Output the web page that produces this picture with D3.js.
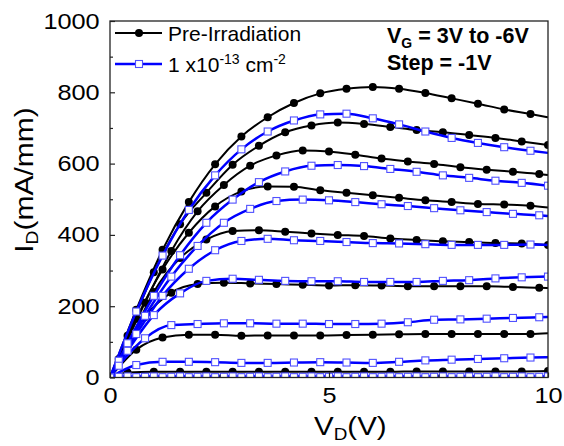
<!DOCTYPE html>
<html><head><meta charset="utf-8">
<script src="https://cdn.jsdelivr.net/npm/d3@7"></script>
<style>body{margin:0;background:#fff}svg{display:block}</style>
</head><body><svg id="c" width="564" height="446"></svg>
<script>
// ---- data ----
const gateVoltages = [3, 2, 1, 0, -1, -2, -3, -4, -5, -6];
// drain-voltage sample positions carrying markers (three interleaved grids)
const vdGridA = [0, 0.6, 1.2, 1.8, 2.4, 3.0, 3.6, 4.2, 4.8, 5.4, 6.0, 6.6, 7.2, 7.8, 8.4, 9.0, 9.6];
const vdGridB = [0.2, 0.8, 1.4, 2.0, 2.6, 3.2, 3.8, 4.4, 5.0, 5.6, 6.2, 6.8, 7.4, 8.0, 8.6, 9.2, 9.8];
const vdGridC = [0.4, 1.0, 1.6, 2.2, 2.8, 3.4, 4.0, 4.6, 5.2, 5.8, 6.4, 7.0, 7.6, 8.2, 8.8, 9.4, 10.0];
const gridOfCurve = [vdGridA, vdGridC, vdGridB, vdGridA, vdGridC, vdGridB, vdGridA, vdGridC, vdGridB, vdGridA];

// Pre-Irradiation I_D (mA/mm)
const preVG3  = [0, 190, 358, 492, 598, 676, 730, 770, 797, 810, 815, 810, 798, 783, 768, 752, 739];
const preVG2  = [117, 295, 430, 518, 597, 650, 688, 707, 715, 711, 703, 694, 688, 680, 672, 662, 652];
const preVG1  = [52, 210, 355, 466, 540, 594, 623, 637, 634, 625, 614, 606, 599, 590, 583, 577, 571];
const preVG0  = [0, 165, 303, 406, 480, 522, 536, 535, 525, 518, 511, 504, 497, 492, 487, 485, 482];
const preVGm1 = [88, 240, 335, 387, 411, 413, 409, 404, 400, 397, 390, 386, 382, 380, 377, 376, 372];
const preVGm2 = [45, 170, 238, 262, 266, 264, 262, 260, 258, 259, 258, 256, 256, 256, 256, 254, 252];
const preVGm3 = [0, 78, 112, 120, 120, 117, 118, 118, 118, 119, 120, 121, 122, 122, 122, 122, 122];
const preVGm4 = [14, 16, 16, 16, 16, 16, 16, 16, 16, 16, 16, 17, 17, 17, 17, 17, 18];
const preVGm5 = [0, 0, 0, 0, 0, 0, 0, 0, 0, 0, 0, 0, 0, 0, 0, 0, 0];
const preVGm6 = [0, 0, 0, 0, 0, 0, 0, 0, 0, 0, 0, 0, 0, 0, 0, 0, 0];
const preAt10V = [730, 652, 568, 477, 372, 251, 124, 18, 0, 0];

// 1x10^-13 cm^-2 I_D (mA/mm)
const postVG3  = [0, 185, 342, 470, 567, 640, 690, 721, 738, 740, 727, 710, 690, 672, 658, 646, 636];
const postVG2  = [96, 229, 343, 434, 499, 548, 578, 594, 596, 593, 585, 577, 567, 560, 552, 546, 538];
const postVG1  = [47, 173, 283, 369, 434, 473, 495, 499, 497, 492, 486, 481, 475, 469, 464, 459, 455];
const postVG0  = [0, 122, 229, 305, 357, 383, 389, 385, 383, 380, 377, 376, 374, 372, 372, 372, 373];
const postVGm1 = [75, 175, 236, 271, 277, 274, 271, 270, 270, 268, 268, 268, 271, 273, 278, 281, 283];
const postVGm2 = [33, 110, 147, 150, 152, 152, 151, 151, 150, 150, 151, 155, 162, 163, 165, 167, 169];
const postVGm3 = [0, 35, 44, 44, 43, 41, 41, 42, 43, 42, 41, 44, 48, 50, 52, 54, 56];
const postVGm4 = [3, 3, 3, 3, 3, 3, 3, 3, 3, 3, 3, 3, 3, 3, 3, 3, 3];
const postVGm5 = [2, 2, 2, 2, 2, 2, 2, 2, 2, 2, 2, 2, 2, 2, 2, 2, 2];
const postVGm6 = [0, 1, 1, 1, 1, 1, 1, 1, 1, 1, 1, 1, 1, 1, 1, 1, 1];
const postAt10V = [630, 538, 453, 372, 283, 170, 57, 3, 2, 1];

const xTicks = [0, 5, 10];
const xMinorTicks = [2.5, 7.5];
const yTicks = [0, 200, 400, 600, 800, 1000];
const yMinorTicks = [100, 300, 500, 700, 900];

const preSeries = [preVG3, preVG2, preVG1, preVG0, preVGm1, preVGm2, preVGm3, preVGm4, preVGm5, preVGm6];
const postSeries = [postVG3, postVG2, postVG1, postVG0, postVGm1, postVGm2, postVGm3, postVGm4, postVGm5, postVGm6];

// ---- drawing ----
const svg = d3.select("#c");
const P = {l: 110, r: 548, t: 21, b: 377.5};
const FONT = "'Liberation Sans', Arial, sans-serif";
const x = d3.scaleLinear().domain([0, 10]).range([P.l, P.r]);
const y = d3.scaleLinear().domain([0, 1000]).range([P.b, P.t]);

svg.append("defs").append("clipPath").attr("id", "clip")
  .append("rect").attr("x", P.l).attr("y", P.t).attr("width", P.r - P.l).attr("height", P.b - P.t);

function build(values, grid, end) {
  const pts = grid.map((v, i) => [v, values[i]]);
  const line = pts.slice();
  if (grid[0] > 0) line.unshift([0, 0]);
  if (grid[grid.length - 1] < 10) line.push([10, end]);
  return {pts, line};
}
const lineGen = d3.line().x(d => x(d[0])).y(d => y(d[1])).curve(d3.curveMonotoneX);
const plot = svg.append("g").attr("clip-path", "url(#clip)");

const preData = preSeries.map((s, i) => build(s, gridOfCurve[i], preAt10V[i]));
const postData = postSeries.map((s, i) => build(s, gridOfCurve[i], postAt10V[i]));

preData.forEach(c => {
  plot.append("path").attr("d", lineGen(c.line)).attr("fill", "none")
    .attr("stroke", "#000").attr("stroke-width", 2);
});
preData.forEach(c => {
  plot.selectAll(null).data(c.pts).enter().append("circle")
    .attr("cx", d => x(d[0])).attr("cy", d => y(d[1])).attr("r", 4).attr("fill", "#000");
});
postData.forEach(c => {
  plot.append("path").attr("d", lineGen(c.line)).attr("fill", "none")
    .attr("stroke", "#0000ff").attr("stroke-width", 2.5);
});
postData.forEach(c => {
  plot.selectAll(null).data(c.pts).enter().append("rect")
    .attr("x", d => x(d[0]) - 3.5).attr("y", d => y(d[1]) - 3.5)
    .attr("width", 7).attr("height", 7)
    .attr("fill", "#fff").attr("stroke", "#5050ff").attr("stroke-width", 1.1);
});

// axes
const tickFont = 22;
const gx = svg.append("g").attr("transform", `translate(0,${P.b})`)
  .call(d3.axisBottom(x).tickValues(xTicks).tickSize(-5).tickPadding(10).tickFormat(d3.format("d")));
const gxm = svg.append("g").attr("transform", `translate(0,${P.b})`)
  .call(d3.axisBottom(x).tickValues(xMinorTicks).tickSize(-3).tickFormat(""));
const gy = svg.append("g").attr("transform", `translate(${P.l},0)`)
  .call(d3.axisLeft(y).tickValues(yTicks).tickSize(-5).tickPadding(9).tickFormat(d3.format("d")));
const gym = svg.append("g").attr("transform", `translate(${P.l},0)`)
  .call(d3.axisLeft(y).tickValues(yMinorTicks).tickSize(-3).tickFormat(""));
[gx, gxm, gy, gym].forEach(g => {
  g.select(".domain").remove();
  g.selectAll("line").attr("stroke", "#222").attr("stroke-width", 1.2);
  g.selectAll("text").attr("font-family", FONT).attr("font-size", tickFont).attr("fill", "#000");
});
gx.selectAll(".tick text").attr("transform", "scale(1.15,1)");
gy.selectAll(".tick text").attr("transform", "scale(1.15,1)");

svg.append("rect").attr("x", P.l).attr("y", P.t).attr("width", P.r - P.l).attr("height", P.b - P.t)
  .attr("fill", "none").attr("stroke", "#222").attr("stroke-width", 1.3);

// axis titles
const xt = svg.append("text").attr("font-family", FONT).attr("font-size", 25).attr("fill", "#000")
  .attr("transform", "translate(314,435) scale(1.18,1)");
xt.append("tspan").text("V");
xt.append("tspan").attr("font-size", 16).attr("dy", 5).text("D");
xt.append("tspan").attr("dy", -5).text("(V)");

const yt = svg.append("text").attr("font-family", FONT).attr("font-size", 25).attr("fill", "#000")
  .attr("text-anchor", "middle")
  .attr("transform", "translate(33,180) rotate(-90) scale(1.2,1)");
yt.append("tspan").text("I");
yt.append("tspan").attr("font-size", 16).attr("dy", 5).text("D");
yt.append("tspan").attr("dy", -5).text("(mA/mm)");

// legend
const lg = svg.append("g");
lg.append("line").attr("x1", 115).attr("x2", 162).attr("y1", 33).attr("y2", 33)
  .attr("stroke", "#000").attr("stroke-width", 2);
lg.append("circle").attr("cx", 139).attr("cy", 33).attr("r", 4).attr("fill", "#000");
lg.append("text").attr("x", 168).attr("y", 41).attr("font-family", FONT).attr("font-size", 21)
  .attr("fill", "#000").text("Pre-Irradiation");
lg.append("line").attr("x1", 115).attr("x2", 162).attr("y1", 64).attr("y2", 64)
  .attr("stroke", "#0000ff").attr("stroke-width", 2.5);
lg.append("rect").attr("x", 135.5).attr("y", 60.5).attr("width", 7).attr("height", 7)
  .attr("fill", "#fff").attr("stroke", "#5050ff").attr("stroke-width", 1.1);
const l2 = lg.append("text").attr("x", 168).attr("y", 72).attr("font-family", FONT).attr("font-size", 21).attr("fill", "#000");
l2.append("tspan").text("1 x10");
l2.append("tspan").attr("font-size", 14).attr("dy", -8).text("-13");
l2.append("tspan").attr("dy", 8).text(" cm");
l2.append("tspan").attr("font-size", 14).attr("dy", -8).text("-2");

// annotation
const a1 = svg.append("text").attr("x", 387).attr("y", 43).attr("font-family", FONT)
  .attr("font-size", 21.5).attr("font-weight", "bold").attr("fill", "#000");
a1.append("tspan").text("V");
a1.append("tspan").attr("font-size", 14).attr("dy", 5).text("G");
a1.append("tspan").attr("dy", -5).text(" = 3V to -6V");
svg.append("text").attr("x", 387).attr("y", 70).attr("font-family", FONT)
  .attr("font-size", 21.5).attr("font-weight", "bold").attr("fill", "#000").text("Step = -1V");
</script></body></html>
